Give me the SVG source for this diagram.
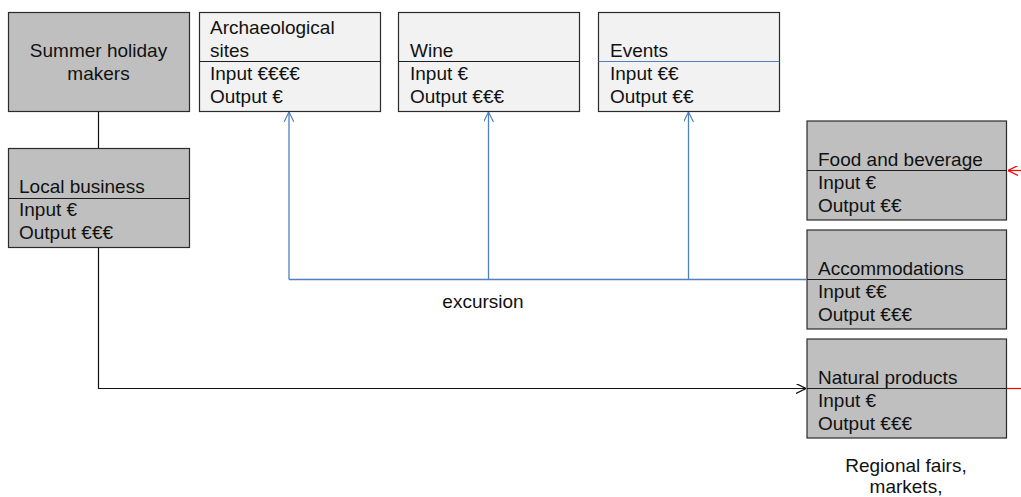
<svg xmlns="http://www.w3.org/2000/svg" width="1021" height="497" viewBox="0 0 1021 497">
  <style>
    text { font-family: "Liberation Sans", Arial, sans-serif; font-size: 19px; fill: #111; }
    .mid { text-anchor: middle; }
    .box { stroke: #2b2b2b; stroke-width: 1.2; }
    .dark { fill: #bfbfbf; }
    .light { fill: #f2f2f2; }
    .div { stroke: #1e1e1e; stroke-width: 1.2; }
    .blue { stroke: #4f81bd; stroke-width: 1.3; fill: none; }
    .black { stroke: #111; stroke-width: 1.2; fill: none; }
    .red { stroke: #ff0000; stroke-width: 1.2; fill: none; }
  </style>
  <defs>
    <marker id="arrow-blue" viewBox="0 0 10 10" refX="10" refY="5" markerWidth="10" markerHeight="10" markerUnits="userSpaceOnUse" orient="auto">
      <path d="M0,0 L10,5 L0,10" fill="none" stroke="#4f81bd" stroke-width="1.2"/>
    </marker>
    <marker id="arrow-black" viewBox="0 0 10 10" refX="10" refY="5" markerWidth="10" markerHeight="10" markerUnits="userSpaceOnUse" orient="auto">
      <path d="M0,0 L10,5 L0,10" fill="none" stroke="#111" stroke-width="1.2"/>
    </marker>
    <marker id="arrow-red" viewBox="0 0 10 10" refX="10" refY="5" markerWidth="11" markerHeight="10" markerUnits="userSpaceOnUse" orient="auto">
      <path d="M0,0 L10,5 L0,10" fill="none" stroke="#ff0000" stroke-width="1.2"/>
    </marker>
  </defs>

  <!-- connectors -->
  <g id="connectors">
    <path class="black" d="M98.5,111 V148"/>
    <path class="black" d="M98.5,248 V388.5 H806" marker-end="url(#arrow-black)"/>
    <path class="blue" d="M806,279.5 H289"/>
    <path class="blue" d="M289,279.5 V112" marker-end="url(#arrow-blue)"/>
    <path class="blue" d="M488.5,279.5 V112" marker-end="url(#arrow-blue)"/>
    <path class="blue" d="M688.5,279.5 V112" marker-end="url(#arrow-blue)"/>
    <path class="red" d="M1021,170.5 H1008" marker-end="url(#arrow-red)"/>
    <path class="red" d="M1006.5,388.5 H1021"/>
  </g>

  <!-- nodes -->
  <g id="summer-holiday-makers">
    <rect class="box dark" x="8.5" y="12.5" width="181" height="99"/>
    <text class="mid" x="98.5" y="57">Summer holiday</text>
    <text class="mid" x="98.5" y="80">makers</text>
  </g>

  <g id="archaeological-sites">
    <rect class="box light" x="199.5" y="12.5" width="181" height="99"/>
    <line class="div" x1="199.5" y1="61.5" x2="380.5" y2="61.5"/>
    <text x="210" y="34">Archaeological</text>
    <text x="210" y="57">sites</text>
    <text x="210" y="80">Input €€€€</text>
    <text x="210" y="103">Output €</text>
  </g>

  <g id="wine">
    <rect class="box light" x="398.5" y="12.5" width="181" height="99"/>
    <line class="div" x1="398.5" y1="61.5" x2="579.5" y2="61.5"/>
    <text x="410" y="57">Wine</text>
    <text x="410" y="80">Input €</text>
    <text x="410" y="103">Output €€€</text>
  </g>

  <g id="events">
    <rect class="box light" x="598.5" y="12.5" width="181" height="99"/>
    <line x1="598.5" y1="61.5" x2="779.5" y2="61.5" stroke="#4f81bd" stroke-width="1.2"/>
    <text x="610" y="57">Events</text>
    <text x="610" y="80">Input €€</text>
    <text x="610" y="103">Output €€</text>
  </g>

  <g id="local-business">
    <rect class="box dark" x="8.5" y="148.5" width="181" height="99"/>
    <line class="div" x1="8.5" y1="198.5" x2="189.5" y2="198.5"/>
    <text x="19" y="193">Local business</text>
    <text x="19" y="216">Input €</text>
    <text x="19" y="239">Output €€€</text>
  </g>

  <g id="food-and-beverage">
    <rect class="box dark" x="807" y="121" width="199.5" height="99"/>
    <line class="div" x1="807" y1="170.5" x2="1006.5" y2="170.5"/>
    <text x="818" y="165.5">Food and beverage</text>
    <text x="818" y="189">Input €</text>
    <text x="818" y="212">Output €€</text>
  </g>

  <g id="accommodations">
    <rect class="box dark" x="807" y="230" width="199.5" height="99"/>
    <line class="div" x1="807" y1="279.5" x2="1006.5" y2="279.5"/>
    <text x="818" y="274.5">Accommodations</text>
    <text x="818" y="298">Input €€</text>
    <text x="818" y="321">Output €€€</text>
  </g>

  <g id="natural-products">
    <rect class="box dark" x="807" y="339" width="199.5" height="99"/>
    <line class="div" x1="807" y1="388.5" x2="1006.5" y2="388.5"/>
    <text x="818" y="383.5">Natural products</text>
    <text x="818" y="407">Input €</text>
    <text x="818" y="430">Output €€€</text>
  </g>

  <!-- free labels -->
  <text class="mid" x="483" y="308">excursion</text>
  <text class="mid" x="906" y="472">Regional fairs,</text>
  <text class="mid" x="906" y="493">markets,</text>
</svg>
